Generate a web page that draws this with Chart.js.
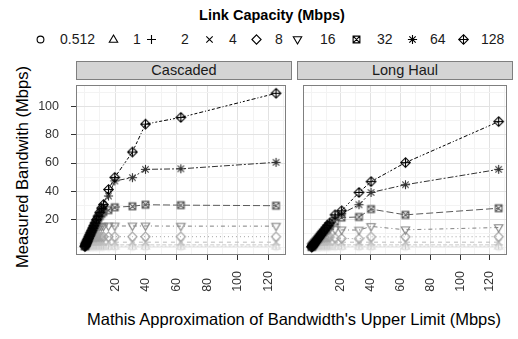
<!DOCTYPE html>
<html>
<head>
<meta charset="utf-8">
<script src="https://cdn.jsdelivr.net/npm/chart.js@4.4.0/dist/chart.umd.min.js"></script>
<style>
  body { margin: 0; background: #fff; font-family: "Liberation Sans", Arial, sans-serif; }
  #wrap { position: relative; width: 518px; height: 339px; overflow: hidden; background: #fff; }
  .abs { position: absolute; white-space: nowrap; }
  .abs canvas { display: block; }
  .strip { position: absolute; top: 61px; height: 19px; box-sizing: border-box; background: #d4d4d4;
           border: 1px solid #7f7f7f; text-align: center; font-size: 14.5px; line-height: 17px; color: #1a1a1a; }
  .legtxt { position: absolute; font-size: 14px; line-height: 16px; top: 31px; color: #1a1a1a; }
  .title { font-size: 16.5px; color: #000; transform: translate(-50%, -50%); }
</style>
</head>
<body>
<div id="wrap">
  <div class="abs" style="left:272px;top:15px;transform:translate(-50%,-50%);font-size:14.5px;font-weight:bold;">Link Capacity (Mbps)</div>
  <div id="legend"></div>
  <div class="strip" style="left:76px;width:216px;">Cascaded</div>
  <div class="strip" style="left:297px;width:216px;">Long Haul</div>
  <div class="abs title" style="left:22px;top:167px;transform:translate(-50%,-50%) rotate(-90deg);">Measured Bandwith (Mbps)</div>
  <div class="abs title" style="left:294px;top:319px;">Mathis Approximation of Bandwidth's Upper Limit (Mbps)</div>
  <div class="abs" style="left:0;top:79px;"><canvas id="c1" width="292" height="260"></canvas></div>
  <div class="abs" style="left:297px;top:79px;"><canvas id="c2" width="216" height="260"></canvas></div>
</div>
<script>
// link capacities (legend order) and styles
const capacities = ['0.512', '1', '2', '4', '8', '16', '32', '64', '128'];
const seriesColors = ['#e6e6e6', '#dadada', '#cccccc', '#bbbbbb', '#a2a2a2', '#808080', '#5a5a5a', '#333333', '#000000'];
const seriesDash = [[], [2, 2], [4, 2], [4, 4], [1, 3], [1, 3, 4, 3], [7, 3], [2, 2, 6, 2], [1, 2, 2, 2, 3, 2, 4, 2]];

// Cascaded panel
const xCascaded = [0.3, 0.5, 0.8, 1.1, 1.4, 1.8, 2.2, 2.6, 3.1, 3.6, 4.2, 4.8, 5.5, 6.2, 7.0, 7.9, 8.9, 10.0, 11.2, 12.4, 15.7, 19.8, 31.3, 39.8, 62.9, 125];
const yCascaded = [
  [0.35, 0.42, 0.46, 0.47, 0.48, 0.48, 0.48, 0.48, 0.48, 0.48, 0.48, 0.48, 0.48, 0.48, 0.48, 0.48, 0.48, 0.48, 0.48, 0.48, 0.48, 0.48, 0.48, 0.48, 0.48, 0.48],
  [0.5, 0.7, 0.85, 0.9, 0.93, 0.95, 0.95, 0.95, 0.95, 0.95, 0.95, 0.95, 0.95, 0.95, 0.95, 0.95, 0.95, 0.95, 0.95, 0.95, 0.95, 0.95, 0.95, 0.95, 0.95, 0.95],
  [0.6, 0.9, 1.3, 1.5, 1.7, 1.8, 1.85, 1.9, 1.9, 1.9, 1.9, 1.9, 1.9, 1.9, 1.9, 1.9, 1.9, 1.9, 1.9, 1.9, 1.9, 1.9, 1.9, 1.9, 1.9, 1.9],
  [0.7, 1.1, 1.7, 2.2, 2.6, 3.0, 3.3, 3.5, 3.7, 3.8, 3.8, 3.8, 3.8, 3.8, 3.8, 3.8, 3.8, 3.8, 3.8, 3.8, 3.8, 3.8, 3.8, 3.8, 3.8, 3.8],
  [0.7, 1.2, 1.9, 2.6, 3.2, 4.0, 4.7, 5.3, 5.9, 6.4, 6.9, 7.2, 7.4, 7.6, 7.6, 7.7, 7.7, 7.7, 7.7, 7.7, 7.7, 7.7, 7.7, 7.7, 7.7, 7.7],
  [0.8, 1.3, 2.0, 2.7, 3.4, 4.3, 5.2, 6.1, 7.2, 8.2, 9.4, 10.5, 11.6, 12.6, 13.5, 14.2, 14.7, 15.0, 15.1, 15.2, 15.3, 15.3, 15.3, 15.3, 15.2, 15.2],
  [0.8, 1.3, 2.0, 2.7, 3.5, 4.4, 5.4, 6.4, 7.6, 8.8, 10.2, 11.6, 13.2, 14.8, 16.6, 18.5, 20.4, 22.3, 24.0, 25.3, 26.6, 28.6, 29.3, 30.4, 30.1, 29.7],
  [0.8, 1.3, 2.0, 2.8, 3.5, 4.5, 5.5, 6.5, 7.7, 9.0, 10.4, 11.9, 13.6, 15.3, 17.2, 19.4, 21.8, 24.4, 27.0, 29.4, 36.6, 47.3, 49.6, 55.5, 55.9, 60.5],
  [0.8, 1.3, 2.0, 2.8, 3.5, 4.5, 5.5, 6.5, 7.8, 9.0, 10.5, 12.0, 13.8, 15.5, 17.5, 19.8, 22.3, 25.0, 28.0, 30.5, 41.2, 49.8, 67.8, 87.6, 92.4, 109.5]
];

// Long Haul panel
const xLongHaul = [0.3, 0.5, 0.8, 1.1, 1.4, 1.8, 2.2, 2.6, 3.1, 3.6, 4.2, 4.8, 5.5, 6.2, 7.0, 7.9, 8.9, 10.0, 11.2, 12.5, 16.0, 20.4, 32.1, 40.2, 63.3, 125.9];
const yLongHaul = [
  [0.25, 0.35, 0.42, 0.45, 0.47, 0.48, 0.48, 0.48, 0.48, 0.48, 0.48, 0.48, 0.48, 0.48, 0.48, 0.48, 0.48, 0.48, 0.48, 0.48, 0.48, 0.48, 0.48, 0.48, 0.48, 0.48],
  [0.3, 0.5, 0.7, 0.8, 0.87, 0.92, 0.94, 0.95, 0.95, 0.95, 0.95, 0.95, 0.95, 0.95, 0.95, 0.95, 0.95, 0.95, 0.95, 0.95, 0.95, 0.95, 0.95, 0.95, 0.95, 0.95],
  [0.4, 0.6, 0.9, 1.1, 1.3, 1.5, 1.6, 1.7, 1.8, 1.85, 1.9, 1.9, 1.9, 1.9, 1.9, 1.9, 1.9, 1.9, 1.9, 1.9, 1.9, 1.9, 1.9, 1.9, 1.9, 1.9],
  [0.4, 0.7, 1.0, 1.4, 1.7, 2.1, 2.4, 2.7, 3.0, 3.3, 3.5, 3.6, 3.7, 3.8, 3.8, 3.8, 3.8, 3.8, 3.8, 3.8, 3.8, 3.8, 3.8, 3.8, 3.8, 3.8],
  [0.4, 0.7, 1.1, 1.5, 1.9, 2.4, 2.9, 3.3, 3.9, 4.4, 5.0, 5.5, 6.0, 6.5, 6.9, 7.1, 7.3, 7.4, 7.5, 7.5, 6.8, 6.5, 6.2, 7.6, 7.6, 7.7],
  [0.4, 0.7, 1.1, 1.5, 2.0, 2.5, 3.0, 3.5, 4.2, 4.8, 5.6, 6.3, 7.2, 8.0, 8.9, 9.8, 10.8, 11.7, 12.4, 13.0, 12.8, 12.5, 12.4, 15.0, 12.6, 14.2],
  [0.4, 0.7, 1.1, 1.5, 2.0, 2.5, 3.1, 3.6, 4.3, 5.0, 5.8, 6.6, 7.6, 8.6, 9.6, 10.8, 12.1, 13.5, 14.8, 15.8, 18.3, 21.3, 21.7, 27.3, 23.2, 27.9],
  [0.4, 0.7, 1.1, 1.5, 2.0, 2.5, 3.1, 3.6, 4.3, 5.0, 5.9, 6.7, 7.7, 8.7, 9.8, 11.0, 12.4, 13.9, 15.5, 17.2, 21.5, 24.0, 30.4, 39.1, 44.6, 55.5],
  [0.4, 0.7, 1.1, 1.5, 2.0, 2.5, 3.1, 3.6, 4.3, 5.0, 5.9, 6.7, 7.7, 8.7, 9.8, 11.1, 12.5, 14.0, 15.7, 17.5, 23.2, 26.1, 39.1, 46.8, 60.3, 89.4]
];

// axis breaks
const xBreaks = [0, 10, 20, 30, 40, 50, 60, 70, 80, 90, 100, 110, 120, 130];
const xLabels = [20, 40, 60, 80, 100, 120];
const yBreaks = [0, 10, 20, 30, 40, 50, 60, 70, 80, 90, 100, 110];
const yLabels = [20, 40, 60, 80, 100];

const FONT = '"Liberation Sans", Arial, sans-serif';

// ggplot-like open shapes 1..9
const drawShape = (ctx, k, x, y, col) => {
    ctx.strokeStyle = col;
    ctx.lineWidth = 1.1;
    ctx.beginPath();
    const line = (x1, y1, x2, y2) => { ctx.moveTo(x1, y1); ctx.lineTo(x2, y2); };
    const diamond = (r) => { ctx.moveTo(x, y - r); ctx.lineTo(x + r, y); ctx.lineTo(x, y + r); ctx.lineTo(x - r, y); ctx.closePath(); };
    if (k === 0) ctx.arc(x, y, 3.4, 0, Math.PI * 2);
    if (k === 1) { ctx.moveTo(x, y - 4.5); ctx.lineTo(x + 4.2, y + 2.7); ctx.lineTo(x - 4.2, y + 2.7); ctx.closePath(); }
    if (k === 2) { line(x - 4.5, y, x + 4.5, y); line(x, y - 4.5, x, y + 4.5); }
    if (k === 3) { line(x - 3.2, y - 3.2, x + 3.2, y + 3.2); line(x - 3.2, y + 3.2, x + 3.2, y - 3.2); }
    if (k === 4) diamond(4.6);
    if (k === 5) { ctx.moveTo(x, y + 4.5); ctx.lineTo(x + 4.2, y - 2.7); ctx.lineTo(x - 4.2, y - 2.7); ctx.closePath(); }
    if (k === 6) { ctx.rect(x - 3.4, y - 3.4, 6.8, 6.8); line(x - 3.4, y - 3.4, x + 3.4, y + 3.4); line(x - 3.4, y + 3.4, x + 3.4, y - 3.4); }
    if (k === 7) { line(x - 4.6, y, x + 4.6, y); line(x, y - 4.6, x, y + 4.6); line(x - 3.2, y - 3.2, x + 3.2, y + 3.2); line(x - 3.2, y + 3.2, x + 3.2, y - 3.2); }
    if (k === 8) { diamond(4.8); line(x - 4.8, y, x + 4.8, y); line(x, y - 4.8, x, y + 4.8); }
    ctx.stroke();
};

const shapeImage = (k, col) => {
    const c = document.createElement('canvas');
    c.width = 13; c.height = 13;
    drawShape(c.getContext('2d'), k, 6.5, 6.5, col);
    return c;
};

// legend
const legendSymbolX = [40, 113.3, 151.7, 209, 256.7, 297.7, 356, 412.7, 463.3];
const legendTextX = [60, 133, 181, 229, 275, 320, 377, 430, 481];
const legend = document.getElementById('legend');
capacities.forEach((cap, i) => {
    const c = shapeImage(i, '#000');
    c.style.position = 'absolute';
    c.style.left = (legendSymbolX[i] - 6.5) + 'px';
    c.style.top = (39 - 6.5) + 'px';
    legend.appendChild(c);
    const s = document.createElement('span');
    s.className = 'legtxt';
    s.style.left = legendTextX[i] + 'px';
    s.textContent = cap;
    legend.appendChild(s);
});

const panelBorder = {
    id: 'panelBorder',
    afterDraw: (chart) => {
        const { ctx, chartArea: a } = chart;
        ctx.save();
        ctx.strokeStyle = '#7f7f7f';
        ctx.lineWidth = 1;
        ctx.strokeRect(a.left + 0.5, a.top + 0.5, a.right - a.left - 1, a.bottom - a.top - 1);
        ctx.restore();
    }
};

const buildDatasets = (xs, ys) => {
    const points = [], lines = [];
    capacities.forEach((cap, i) => {
        const data = xs.map((x, j) => ({ x: x, y: ys[i][j] }));
        const rank = capacities.length - 1 - i; // 128 drawn last (on top)
        lines.push({
            label: cap, data: data, showLine: true, pointRadius: 0,
            borderColor: seriesColors[i], borderWidth: 1, borderDash: seriesDash[i],
            order: capacities.length + rank,
        });
        points.push({
            label: cap, data: data, showLine: false, pointRadius: 5,
            pointStyle: shapeImage(i, seriesColors[i]),
            order: rank,
        });
    });
    return [...points, ...lines];
};

// no extra label padding around the plot area
const noPadding = (s) => { s.paddingLeft = 0; s.paddingRight = 0; s.paddingTop = 0; s.paddingBottom = 0; };

const makeChart = (id, xs, ys, showY) => {
    const tickFont = { family: FONT, size: 12.5 };
    return new Chart(document.getElementById(id).getContext('2d'), {
        type: 'scatter',
        data: { datasets: buildDatasets(xs, ys) },
        options: {
            responsive: false,
            animation: false,
            layout: { padding: { right: showY ? 1 : 0, top: 0, left: 0, bottom: 0 } },
            plugins: { legend: { display: false }, tooltip: { enabled: false } },
            scales: {
                x: {
                    type: 'linear', min: -5.5, max: 131.5,
                    afterBuildTicks: (s) => { s.ticks = xBreaks.map(v => ({ value: v })); },
                    afterFit: (s) => { s.height = 84; noPadding(s); },
                    ticks: {
                        autoSkip: false, minRotation: 90, maxRotation: 90, padding: 11,
                        font: tickFont, color: '#333',
                        // pad shorter labels so the rotated labels share a common start
                        callback: (v) => xLabels.includes(v) ? (String(v) + (v < 100 ? '  ' : '')) : '',
                    },
                    grid: {
                        color: (c) => xLabels.includes(c.tick.value) ? '#e2e2e2' : '#f3f3f3',
                        lineWidth: 1,
                        tickColor: (c) => xLabels.includes(c.tick.value) ? '#333' : 'rgba(0,0,0,0)',
                        tickLength: 5,
                    },
                    border: { display: false },
                },
                y: {
                    type: 'linear', min: -5.3, max: 115.4,
                    afterBuildTicks: (s) => { s.ticks = yBreaks.map(v => ({ value: v })); },
                    afterFit: (s) => { s.width = showY ? 76 : 0; noPadding(s); },
                    ticks: {
                        display: showY, autoSkip: false, padding: 12,
                        font: tickFont, color: '#333',
                        callback: (v) => yLabels.includes(v) ? String(v) : '',
                    },
                    grid: {
                        color: (c) => yLabels.includes(c.tick.value) ? '#e2e2e2' : '#f3f3f3',
                        lineWidth: 1,
                        drawTicks: showY,
                        tickColor: (c) => yLabels.includes(c.tick.value) ? '#333' : 'rgba(0,0,0,0)',
                        tickLength: 5,
                    },
                    border: { display: false },
                },
            },
        },
        plugins: [panelBorder],
    });
};

makeChart('c1', xCascaded, yCascaded, true);
makeChart('c2', xLongHaul, yLongHaul, false);
</script>
</body>
</html>
